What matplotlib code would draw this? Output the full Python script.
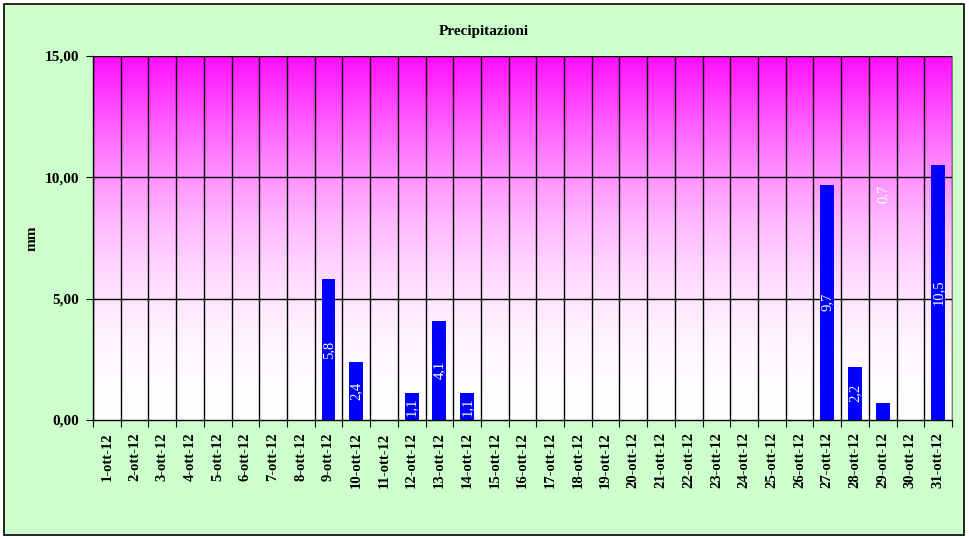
import matplotlib.pyplot as plt
import matplotlib.patches as patches
import numpy as np

# Precipitazioni di ottobre 2012 (mm)
days = [f"{d}-ott-12" for d in range(1, 32)]
rain = [0, 0, 0, 0, 0, 0, 0, 0, 5.8, 2.4, 0, 1.1, 4.1, 1.1, 0, 0,
        0, 0, 0, 0, 0, 0, 0, 0, 0, 0, 9.7, 2.2, 0.7, 0, 10.5]
yticks = [0, 5, 10, 15]

plt.rcParams['font.family'] = ['Liberation Serif', 'DejaVu Serif']

fig = plt.figure(figsize=(9.7, 5.39), dpi=100)
fig.patch.set_facecolor('white')
# sfondo verde con bordo
fig.patches.append(patches.Rectangle((4 / 970, 4 / 539), 960 / 970, 531 / 539,
                                     transform=fig.transFigure, facecolor='#CCFFCC',
                                     edgecolor='black', linewidth=1.2, zorder=-5))

ax = fig.add_axes([93 / 970, 119 / 539, 859 / 970, 364 / 539])
ax.set_zorder(1)
x = np.arange(len(days))
ax.set_xlim(-0.5, len(days) - 0.5)
ax.set_ylim(0, 15)

# gradiente magenta -> bianco (non lineare, come in Excel)
t = np.linspace(1, 0, 256)
cols = np.ones((256, 1, 3))
cols[:, 0, 1] = 1 - 0.95 * t ** 2
ax.imshow(cols, extent=(-0.5, len(days) - 0.5, 0, 15), aspect='auto', zorder=0)

# griglia
for b in np.arange(-0.5, len(days), 1):
    ax.axvline(b, color='black', linewidth=1, zorder=1)
for tk in yticks[1:]:
    ax.axhline(tk, color='black', linewidth=1, zorder=1)

ax.bar(x, rain, width=0.5, color='#0000FF', zorder=2)

for i, v in enumerate(rain):
    if v > 0:
        ypos = v / 2 if v >= 1 else 9.3
        ax.text(i, ypos, f"{v:.1f}".replace('.', ','), rotation=90, color='white',
                ha='center', va='center', fontsize=10.5, zorder=3)

ax.set_yticks(yticks)
ax.set_yticklabels([f"{tk:.2f}".replace('.', ',') for tk in yticks], fontsize=11, fontweight='bold')
ax.set_xticks(np.arange(-0.5, len(days), 1))
ax.set_xticklabels([])
ax.set_xticks(x, minor=True)
ax.set_xticklabels(days, minor=True, rotation=90, fontsize=10.5, fontweight='bold')
ax.tick_params(axis='x', which='minor', length=0, pad=9)
ax.tick_params(axis='x', which='major', length=5, direction='out')
ax.tick_params(axis='y', length=5, direction='out', pad=5)

ax.spines['top'].set_visible(False)
ax.spines['right'].set_color('#808080')
ax.spines['left'].set_linewidth(1)
ax.spines['bottom'].set_linewidth(1)

ax.set_ylabel('mm', fontsize=11, fontweight='bold', labelpad=4)
fig.text(484 / 970, 1 - 32 / 539, 'Precipitazioni', ha='center', va='center',
         fontsize=11, fontweight='bold')

fig.savefig('out.png', dpi=100)
